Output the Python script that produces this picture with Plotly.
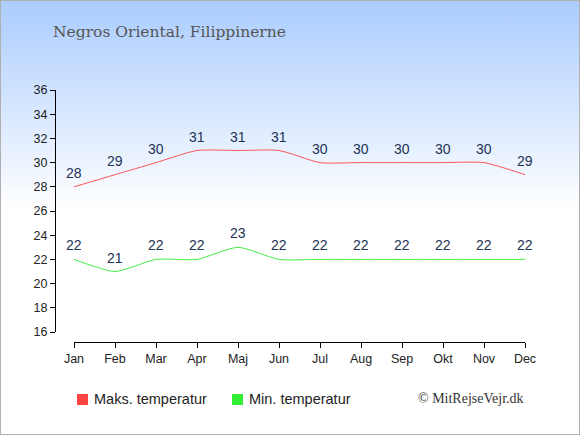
import base64
import plotly.graph_objects as go

months = ['Jan', 'Feb', 'Mar', 'Apr', 'Maj', 'Jun', 'Jul', 'Aug', 'Sep', 'Okt', 'Nov', 'Dec']
max_temp = [28, 29, 30, 31, 31, 31, 30, 30, 30, 30, 30, 29]
min_temp = [22, 21, 22, 22, 23, 22, 22, 22, 22, 22, 22, 22]
y_ticks = list(range(16, 37, 2))

W, H = 580, 435
x = list(range(len(months)))

# gradient background: light blue at top fading to white
svg = ('<svg xmlns="http://www.w3.org/2000/svg" width="580" height="435" preserveAspectRatio="none">'
       '<defs><linearGradient id="g" x1="0" y1="0" x2="0" y2="1">'
       '<stop offset="0" stop-color="#aaccff"/><stop offset="0.48" stop-color="#ffffff"/>'
       '<stop offset="1" stop-color="#ffffff"/></linearGradient></defs>'
       '<rect width="580" height="435" fill="url(#g)"/></svg>')
bg_src = 'data:image/svg+xml;base64,' + base64.b64encode(svg.encode()).decode()

fig = go.Figure()

fig.add_trace(go.Scatter(x=x, y=max_temp, mode='lines',
                         line=dict(color='#ff5555', width=1, shape='spline', smoothing=0.6),
                         showlegend=False, hoverinfo='skip'))
fig.add_trace(go.Scatter(x=x, y=min_temp, mode='lines',
                         line=dict(color='#44ee44', width=1, shape='spline', smoothing=0.6),
                         showlegend=False, hoverinfo='skip'))

annotations = []
for series in (max_temp, min_temp):
    for i, v in enumerate(series):
        annotations.append(dict(x=i, y=v, text=str(v), showarrow=False, yshift=14,
                                font=dict(size=14, color='#223355')))

# title, legend text and credit
annotations += [
    dict(text='Negros Oriental, Filippinerne', xref='paper', yref='paper',
         x=51 / W, y=1 - 32 / H, xanchor='left', yanchor='middle', showarrow=False,
         font=dict(family='DejaVu Serif, serif', size=15.5, color='#555555')),
    dict(text='Maks. temperatur', xref='paper', yref='paper',
         x=92 / W, y=1 - 399 / H, xanchor='left', yanchor='middle', showarrow=False,
         font=dict(size=14.5, color='#222222')),
    dict(text='Min. temperatur', xref='paper', yref='paper',
         x=247 / W, y=1 - 399 / H, xanchor='left', yanchor='middle', showarrow=False,
         font=dict(size=14.5, color='#222222')),
    dict(text='© MitRejseVejr.dk', xref='paper', yref='paper',
         x=526 / W, y=1 - 398 / H, xanchor='right', yanchor='middle', showarrow=False,
         font=dict(family='Liberation Serif, serif', size=14, color='#333333')),
]

shapes = [
    dict(type='rect', xref='paper', yref='paper', x0=0, x1=1, y0=0, y1=1,
         line=dict(color='#b0b0b0', width=2), fillcolor='rgba(0,0,0,0)'),
    dict(type='rect', xref='paper', yref='paper', x0=77 / W, x1=88 / W,
         y0=1 - 405 / H, y1=1 - 394 / H, fillcolor='#ff4444', line=dict(width=0)),
    dict(type='rect', xref='paper', yref='paper', x0=232 / W, x1=243 / W,
         y0=1 - 405 / H, y1=1 - 394 / H, fillcolor='#33ee33', line=dict(width=0)),
]

fig.update_layout(
    width=W, height=H,
    margin=dict(l=0, r=0, t=0, b=0, autoexpand=False),
    paper_bgcolor='white', plot_bgcolor='rgba(0,0,0,0)',
    images=[dict(source=bg_src, xref='paper', yref='paper', x=0, y=1, sizex=1, sizey=1,
                 xanchor='left', yanchor='top', sizing='stretch', layer='below')],
    shapes=shapes,
    annotations=annotations,
    font=dict(family='Liberation Sans, Arial, sans-serif', size=12.5, color='#222222'),
    showlegend=False,
    hovermode=False,
    xaxis=dict(domain=[74 / W, 525 / W], range=[0, 11], anchor='free', position=1 - 342 / H,
               tickvals=x, ticktext=months, showgrid=False, zeroline=False, automargin=False,
               showline=True, linecolor='black', linewidth=1,
               ticks='outside', ticklen=5, tickcolor='black'),
    yaxis=dict(domain=[1 - 332 / H, 1 - 90 / H], range=[16, 36], anchor='free', position=55 / W,
               tickvals=y_ticks, showgrid=False, zeroline=False, automargin=False,
               showline=True, linecolor='black', linewidth=1,
               ticks='outside', ticklen=5, tickcolor='black'),
)

fig.write_html('out.html', config={'displayModeBar': False},
               post_script="document.body.style.margin='0';")
